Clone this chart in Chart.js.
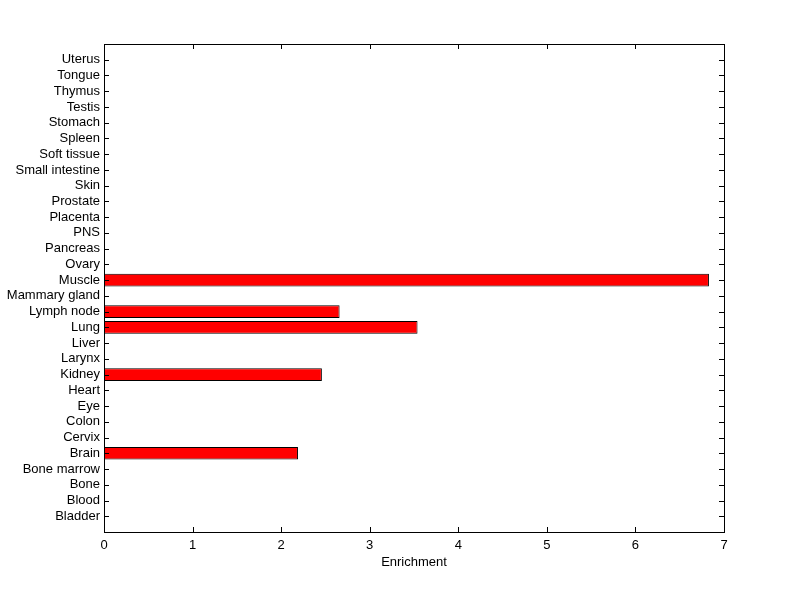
<!DOCTYPE html>
<html>
<head>
<meta charset="utf-8">
<script src="https://cdn.jsdelivr.net/npm/chart.js@4"></script>
<style>
  html, body { margin: 0; padding: 0; background: #fff; }
  #wrap { width: 800px; height: 599px; }
</style>
</head>
<body>
<div id="wrap"><canvas id="myChart" width="800" height="599"></canvas></div>
<script>
// tissues, bottom to top as in the figure
const tissues = ['Bladder', 'Blood', 'Bone', 'Bone marrow', 'Brain', 'Cervix', 'Colon', 'Eye',
  'Heart', 'Kidney', 'Larynx', 'Liver', 'Lung', 'Lymph node', 'Mammary gland', 'Muscle',
  'Ovary', 'Pancreas', 'PNS', 'Placenta', 'Prostate', 'Skin', 'Small intestine',
  'Soft tissue', 'Spleen', 'Stomach', 'Testis', 'Thymus', 'Tongue', 'Uterus'];
const enrichment = [0, 0, 0, 0, 2.19, 0, 0, 0,
  0, 2.46, 0, 0, 3.54, 2.66, 0, 6.83,
  0, 0, 0, 0, 0, 0, 0,
  0, 0, 0, 0, 0, 0, 0];
const xTicks = [0, 1, 2, 3, 4, 5, 6, 7];

// chart.js draws the first label on top, so flip, and pad one empty slot each end
const labels = [''].concat(tissues.slice().reverse(), ['']);
const values = [null].concat(enrichment.map(v => v > 0 ? v : null).reverse(), [null]);

const font = { family: 'Liberation Sans, Arial, sans-serif', size: 13 };

// inward tick marks on all four sides, like the matlab box
const boxTicks = {
  id: 'boxTicks',
  afterDraw(chart) {
    const ctx = chart.ctx;
    const a = chart.chartArea;
    const xs = chart.scales.x, ys = chart.scales.y;
    const len = 5;
    ctx.save();
    ctx.strokeStyle = '#000';
    ctx.lineWidth = 1;
    ctx.beginPath();
    xTicks.forEach(t => {
      const px = Math.round(xs.getPixelForValue(t)) + 0.5;
      ctx.moveTo(px, a.bottom); ctx.lineTo(px, a.bottom - len);
      ctx.moveTo(px, a.top); ctx.lineTo(px, a.top + len);
    });
    for (let i = 1; i < labels.length - 1; i++) {
      const py = Math.round(ys.getPixelForValue(i)) + 0.5;
      ctx.moveTo(a.left, py); ctx.lineTo(a.left + len, py);
      ctx.moveTo(a.right, py); ctx.lineTo(a.right - len, py);
    }
    ctx.stroke();
    ctx.strokeRect(Math.round(a.left) + 0.5, Math.round(a.top) + 0.5,
      Math.round(a.right - a.left), Math.round(a.bottom - a.top));
    ctx.restore();
  }
};

const ctx = document.getElementById('myChart').getContext('2d');
new Chart(ctx, {
  type: 'bar',
  data: {
    labels: labels,
    datasets: [{
      data: values,
      backgroundColor: '#ff0000',
      borderColor: '#000',
      borderWidth: 1,
      borderSkipped: false,
      barPercentage: 0.8,
      categoryPercentage: 1
    }]
  },
  options: {
    indexAxis: 'y',
    responsive: false,
    animation: false,
    layout: { padding: { left: 0, right: 76, top: 44, bottom: 29 } },
    plugins: { legend: { display: false }, tooltip: { enabled: false } },
    scales: {
      x: {
        type: 'linear',
        min: 0, max: 7,
        afterBuildTicks: s => { s.ticks = xTicks.map(v => ({ value: v })); },
        afterFit: s => { s.height = 38; },
        grid: { display: false, drawTicks: false },
        border: { display: false },
        ticks: { color: '#000', font: font, padding: 6 },
        title: { display: true, text: 'Enrichment', color: '#000', font: font, padding: { top: 2, bottom: 0 } }
      },
      y: {
        type: 'category',
        offset: false,
        afterFit: s => { s.width = 104; },
        grid: { display: false, drawTicks: false },
        border: { display: false },
        ticks: { color: '#000', font: font, padding: 4, autoSkip: false }
      }
    }
  },
  plugins: [boxTicks]
});
</script>
</body>
</html>
